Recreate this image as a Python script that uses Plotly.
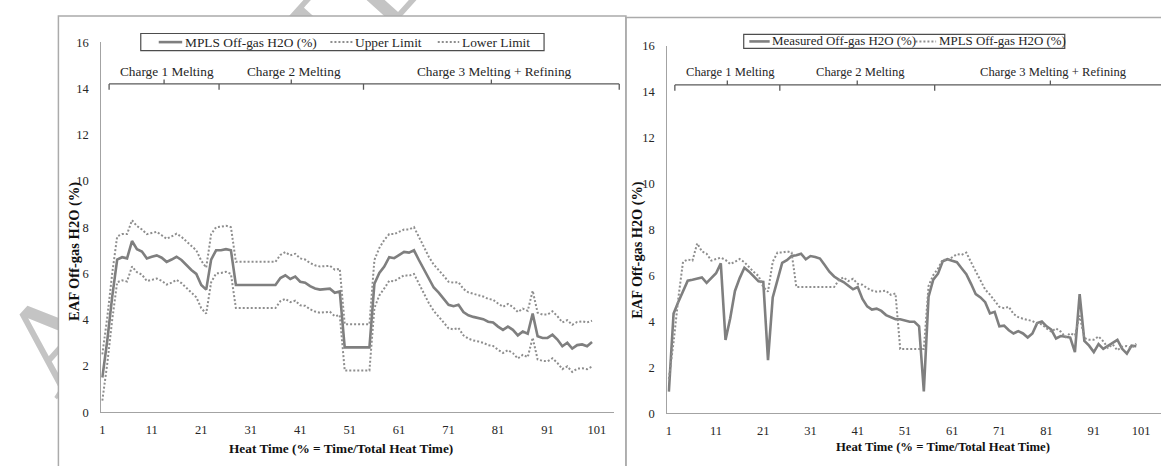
import math
import plotly.graph_objects as go

W, H = 1161, 466

# ---------------- data ----------------
heat_time = list(range(1, 101))

mpls_h2o = [
    1.5, 3.1, 5.0, 6.6, 6.7, 6.65, 7.4, 7.05, 6.95, 6.65,
    6.72, 6.78, 6.68, 6.5, 6.6, 6.72, 6.58, 6.35, 6.15, 5.98,
    5.5, 5.3, 6.6, 7.0, 7.0, 7.05, 7.0, 5.5, 5.5, 5.5,
    5.5, 5.5, 5.5, 5.5, 5.5, 5.5, 5.8, 5.92, 5.76, 5.86,
    5.64, 5.6, 5.45, 5.35, 5.3, 5.32, 5.34, 5.16, 5.22, 2.8,
    2.8, 2.8, 2.8, 2.8, 2.8, 5.55, 6.02, 6.3, 6.7, 6.66,
    6.8, 6.93, 6.9, 7.0, 6.58, 6.16, 5.74, 5.39, 5.17, 4.89,
    4.64, 4.58, 4.64, 4.33, 4.19, 4.12, 4.08, 4.02, 3.91, 3.88,
    3.7, 3.56, 3.7, 3.56, 3.32, 3.49, 3.39, 4.26, 3.28, 3.21,
    3.21, 3.35, 3.14, 2.85, 3.0, 2.75, 2.9, 2.93, 2.85, 3.03,
]

upper_limit = [
    2.5, 4.1, 6.0, 7.6, 7.7, 7.7, 8.3, 8.05, 7.9, 7.7,
    7.75, 7.8, 7.65, 7.5, 7.6, 7.72, 7.58, 7.4, 7.2, 7.0,
    6.55, 6.25, 7.7, 8.0, 8.02, 8.06, 8.0, 6.5, 6.5, 6.5,
    6.5, 6.5, 6.5, 6.5, 6.5, 6.5, 6.8, 6.92, 6.78, 6.85,
    6.65, 6.6, 6.45, 6.35, 6.3, 6.32, 6.33, 6.16, 6.2, 3.8,
    3.8, 3.8, 3.8, 3.8, 3.8, 6.58, 7.1, 7.45, 7.7, 7.7,
    7.8, 7.9, 7.9, 8.0, 7.58, 7.15, 6.72, 6.38, 6.15, 5.9,
    5.64, 5.6, 5.62, 5.33, 5.18, 5.12, 5.07, 5.0, 4.9, 4.86,
    4.7, 4.56, 4.68, 4.55, 4.33, 4.48, 4.38, 5.25, 4.3, 4.22,
    4.22, 4.36, 4.15, 3.88, 3.98, 3.78, 3.9, 3.93, 3.88, 3.95,
]

lower_limit = [
    0.5, 2.1, 4.0, 5.62, 5.7, 5.65, 6.3, 6.05, 5.95, 5.67,
    5.72, 5.78, 5.68, 5.52, 5.6, 5.72, 5.58, 5.38, 5.18, 4.97,
    4.5, 4.26, 5.62, 6.0, 6.02, 6.07, 5.98, 4.5, 4.5, 4.5,
    4.5, 4.5, 4.5, 4.5, 4.5, 4.5, 4.8, 4.9, 4.76, 4.82,
    4.62, 4.6, 4.45, 4.35, 4.3, 4.32, 4.34, 4.15, 4.2, 1.8,
    1.8, 1.8, 1.8, 1.8, 1.8, 4.5, 5.05, 5.35, 5.68, 5.66,
    5.8, 5.92, 5.9, 5.98, 5.56, 5.14, 4.72, 4.38, 4.15, 3.88,
    3.62, 3.58, 3.64, 3.32, 3.18, 3.1, 3.06, 3.0, 2.9, 2.86,
    2.7, 2.56, 2.68, 2.55, 2.32, 2.48, 2.38, 3.22, 2.28, 2.22,
    2.2, 2.33, 2.13, 1.86, 1.98, 1.74, 1.88, 1.9, 1.86, 1.97,
]

measured_h2o = [
    0.95, 4.35, 4.85, 5.33, 5.78, 5.82, 5.87, 5.92, 5.68, 5.89,
    6.1, 6.53, 3.2, 4.14, 5.33, 5.89, 6.34, 6.17, 5.96, 5.75,
    5.72, 2.32, 5.05, 5.82, 6.55, 6.67, 6.85, 6.88, 6.95, 6.71,
    6.85, 6.81, 6.74, 6.46, 6.17, 5.96, 5.82, 5.72, 5.54, 5.4,
    5.5, 4.98, 4.66, 4.52, 4.56, 4.46, 4.28, 4.18, 4.1, 4.1,
    4.04, 3.99, 3.99, 3.79, 0.96, 5.08, 5.82, 6.08, 6.62, 6.71,
    6.64, 6.58, 6.32, 6.06, 5.64, 5.19, 5.05, 4.84, 4.35, 4.42,
    3.79, 3.82, 3.62, 3.48, 3.58, 3.48, 3.3, 3.48, 3.93, 4.0,
    3.79, 3.65, 3.26, 3.37, 3.34, 3.3, 2.67, 5.19, 3.16, 2.95,
    2.67, 3.02, 2.81, 2.95, 3.06, 3.2, 2.81, 2.6, 2.95, 2.92,
]

x_tick_vals = [1, 11, 21, 31, 41, 51, 61, 71, 81, 91, 101]
y_tick_vals = [0, 2, 4, 6, 8, 10, 12, 14, 16]

phase_names = ["Charge 1 Melting", "Charge 2 Melting", "Charge 3 Melting + Refining"]
phase_bounds_left = [2.37, 24.6, 53.8, 105.5]
phase_bounds_right = [2.27, 24.5, 57.3, 106.3]

left_series = ["MPLS Off-gas H2O (%)", "Upper Limit", "Lower Limit"]
right_series = ["Measured Off-gas H2O (%)", "MPLS Off-gas H2O (%)"]

y_title = "EAF Off-gas H2O (%)"
x_title = "Heat Time (% = Time/Total Heat Time)"
watermark_text = "ACCEPTED MANUSCRIPT"

# ---------------- styling ----------------
SERIF = "Liberation Serif, Times New Roman, serif"
SOLID = dict(color="#7f7f7f", width=2.6)
DOTTED = dict(color="#8e8e8e", width=2, dash="2px,2px")
AXIS_GREY = "#a3a3a3"
FRAME_GREY = "#ababab"
INK = "#262626"

# panel geometry (pixels)
LEFT = dict(x0=99.3, x1=613.0, ytop=36.3, ybot=417.7, xr=[0.758, 104.43])
RIGHT = dict(x0=666.5, x1=1161.0, ytop=40.0, ybot=419.0, xr=[0.683, 105.23])
# outer chart frames (pixels): x0, x1, top
FRAMES = [(56.5, 625.0, 9.3), (625.0, 1175.0, 10.7)]


def px_to_paper_x(px):
    return px / W


def px_to_paper_y(py):
    return 1 - py / H


def data_to_px(panel, x):
    x0, x1 = panel["x0"], panel["x1"]
    a, b = panel["xr"]
    return x0 + (x - a) / (b - a) * (x1 - x0)


fig = go.Figure()

# page-level canvas (pixel units) holding the opaque chart backgrounds
for fx0, fx1, ftop in FRAMES:
    fig.add_trace(go.Scatter(
        x=[fx0, fx1, fx1, fx0, fx0], y=[ftop, ftop, H + 10, H + 10, ftop],
        mode="lines", fill="toself", fillcolor="white", line=dict(width=0, color="white"),
        hoverinfo="skip", showlegend=False, xaxis="x", yaxis="y"))

# left panel traces
fig.add_trace(go.Scatter(x=heat_time, y=mpls_h2o, mode="lines", line=SOLID,
                         name=left_series[0], xaxis="x2", yaxis="y2", showlegend=False))
fig.add_trace(go.Scatter(x=heat_time, y=upper_limit, mode="lines", line=DOTTED,
                         name=left_series[1], xaxis="x2", yaxis="y2", showlegend=False))
fig.add_trace(go.Scatter(x=heat_time, y=lower_limit, mode="lines", line=DOTTED,
                         name=left_series[2], xaxis="x2", yaxis="y2", showlegend=False))

# right panel traces
fig.add_trace(go.Scatter(x=heat_time, y=measured_h2o, mode="lines", line=SOLID,
                         name=right_series[0], xaxis="x3", yaxis="y3", showlegend=False))
fig.add_trace(go.Scatter(x=heat_time, y=mpls_h2o, mode="lines", line=DOTTED,
                         name=right_series[1], xaxis="x3", yaxis="y3", showlegend=False))

axis_common = dict(
    showline=True, linecolor=AXIS_GREY, linewidth=1, showgrid=False, zeroline=False,
    ticks="", tickfont=dict(family=SERIF, size=12.5, color=INK), fixedrange=True,
)

fig.update_layout(
    width=W, height=H,
    margin=dict(l=0, r=0, t=0, b=0),
    paper_bgcolor="white", plot_bgcolor="rgba(0,0,0,0)",
    xaxis=dict(domain=[0, 1], range=[0, W], visible=False, fixedrange=True),
    yaxis=dict(domain=[0, 1], range=[H, 0], visible=False, fixedrange=True),
    xaxis2=dict(domain=[px_to_paper_x(LEFT["x0"]), px_to_paper_x(LEFT["x1"])],
                range=LEFT["xr"], tickvals=x_tick_vals, anchor="y2",
                ticklabelstandoff=6, **axis_common),
    yaxis2=dict(domain=[px_to_paper_y(LEFT["ybot"]), px_to_paper_y(LEFT["ytop"])],
                range=[0, 16], tickvals=y_tick_vals, anchor="x2",
                ticklabelstandoff=9, **axis_common),
    xaxis3=dict(domain=[px_to_paper_x(RIGHT["x0"]), px_to_paper_x(RIGHT["x1"])],
                range=RIGHT["xr"], tickvals=x_tick_vals, anchor="y3",
                ticklabelstandoff=6, **axis_common),
    yaxis3=dict(domain=[px_to_paper_y(RIGHT["ybot"]), px_to_paper_y(RIGHT["ytop"])],
                range=[0, 16], tickvals=y_tick_vals, anchor="x3",
                ticklabelstandoff=9, **axis_common),
)

shapes = []
annotations = []

# faint diagonal watermark, kept underneath the chart backgrounds
wm_angle, wm_size, wm_len = 48.0, 128, 900.0
wm_origin = (44.0, 396.5)           # start of the text baseline
wm_descent = 0.216 * wm_size        # label box bottom sits below the baseline
ux, uy = math.cos(math.radians(wm_angle)), -math.sin(math.radians(wm_angle))
nx, ny = uy, -ux                     # "up" direction of the rotated text
wm_x0 = wm_origin[0] - wm_descent * nx
wm_y0 = wm_origin[1] - wm_descent * ny
wm_x1 = wm_x0 + wm_len * ux
wm_y1 = wm_y0 + wm_len * uy
shapes.append(dict(
    type="line", xref="paper", yref="paper", layer="below",
    x0=px_to_paper_x(wm_x0), y0=px_to_paper_y(wm_y0),
    x1=px_to_paper_x(wm_x1), y1=px_to_paper_y(wm_y1),
    line=dict(color="rgba(0,0,0,0)", width=1),
    label=dict(text=watermark_text, textposition="start", textangle=-wm_angle,
               xanchor="left", yanchor="bottom", padding=0,
               font=dict(family="Liberation Serif, Times New Roman, serif", size=wm_size,
                         color="#c4c4c4")),
))

# chart frames
for fx0, fx1, ftop in FRAMES:
    shapes.append(dict(type="rect", xref="paper", yref="paper",
                       x0=px_to_paper_x(fx0), x1=px_to_paper_x(fx1), y0=-0.05,
                       y1=px_to_paper_y(ftop),
                       line=dict(color=FRAME_GREY, width=1.5), fillcolor="rgba(0,0,0,0)"))


def add_phase_brackets(panel, bounds, y_line, y_text, font_size):
    ink = "#5a5a5a"
    yl = px_to_paper_y(y_line)
    pxs = [data_to_px(panel, b) for b in bounds]
    shapes.append(dict(type="line", xref="paper", yref="paper",
                       x0=px_to_paper_x(pxs[0]), x1=px_to_paper_x(pxs[-1]), y0=yl, y1=yl,
                       line=dict(color=ink, width=1.3)))
    for p in pxs:
        shapes.append(dict(type="line", xref="paper", yref="paper",
                           x0=px_to_paper_x(p), x1=px_to_paper_x(p),
                           y0=yl, y1=px_to_paper_y(y_line + 6),
                           line=dict(color=ink, width=1.3)))
    for i, name in enumerate(phase_names):
        mid = (pxs[i] + pxs[i + 1]) / 2
        shapes.append(dict(type="line", xref="paper", yref="paper",
                           x0=px_to_paper_x(mid), x1=px_to_paper_x(mid),
                           y0=yl, y1=px_to_paper_y(y_line - 4.5),
                           line=dict(color=ink, width=1.3)))
        annotations.append(dict(text=name, xref="paper", yref="paper",
                                x=px_to_paper_x(mid + 3), y=px_to_paper_y(y_text),
                                xanchor="center", yanchor="middle", showarrow=False,
                                font=dict(family=SERIF, size=font_size, color=INK)))


add_phase_brackets(LEFT, phase_bounds_left, 79.3, 66.0, 13.3)
add_phase_brackets(RIGHT, phase_bounds_right, 80.3, 66.7, 12.6)


def add_legend(box, items, y_mid, font_size):
    bx0, bx1, by0, by1 = box
    shapes.append(dict(type="rect", xref="paper", yref="paper",
                       x0=px_to_paper_x(bx0), x1=px_to_paper_x(bx1),
                       y0=px_to_paper_y(by1), y1=px_to_paper_y(by0),
                       line=dict(color="#4d4d4d", width=1.2), fillcolor="white"))
    for name, style, s0, s1 in items:
        ln = dict(color=style["color"], width=style["width"])
        if "dash" in style:
            ln["dash"] = style["dash"]
        shapes.append(dict(type="line", xref="paper", yref="paper",
                           x0=px_to_paper_x(s0), x1=px_to_paper_x(s1),
                           y0=px_to_paper_y(y_mid), y1=px_to_paper_y(y_mid), line=ln))
        annotations.append(dict(text=name, xref="paper", yref="paper",
                                x=px_to_paper_x(s1 + 0.5), y=px_to_paper_y(y_mid),
                                xanchor="left", yanchor="middle", showarrow=False,
                                font=dict(family=SERIF, size=font_size, color=INK)))


add_legend((139, 543, 27.3, 45.0),
           [(left_series[0], SOLID, 157, 180.5),
            (left_series[1], DOTTED, 329, 351),
            (left_series[2], DOTTED, 436.5, 458)], 36.2, 13.4)
add_legend((743, 1064.6, 28.3, 42.7),
           [(right_series[0], SOLID, 748.6, 769),
            (right_series[1], DOTTED, 915, 935.7)], 35.5, 12.9)

# axis titles
annotations.append(dict(text="<b>%s</b>" % y_title, xref="paper", yref="paper",
                        x=px_to_paper_x(72), y=px_to_paper_y(251.7), textangle=-90,
                        xanchor="center", yanchor="middle", showarrow=False,
                        font=dict(family=SERIF, size=14.5, color="#111")))
annotations.append(dict(text="<b>%s</b>" % y_title, xref="paper", yref="paper",
                        x=px_to_paper_x(636.3), y=px_to_paper_y(251), textangle=-90,
                        xanchor="center", yanchor="middle", showarrow=False,
                        font=dict(family=SERIF, size=14.3, color="#111")))
annotations.append(dict(text="<b>%s</b>" % x_title, xref="paper", yref="paper",
                        x=px_to_paper_x(339.2), y=px_to_paper_y(455), xanchor="center",
                        yanchor="middle", showarrow=False,
                        font=dict(family=SERIF, size=13.3, color="#111")))
annotations.append(dict(text="<b>%s</b>" % x_title, xref="paper", yref="paper",
                        x=px_to_paper_x(942.7), y=px_to_paper_y(454), xanchor="center",
                        yanchor="middle", showarrow=False,
                        font=dict(family=SERIF, size=12.7, color="#111")))

fig.update_layout(shapes=shapes, annotations=annotations)

fig.write_html("out.html")
